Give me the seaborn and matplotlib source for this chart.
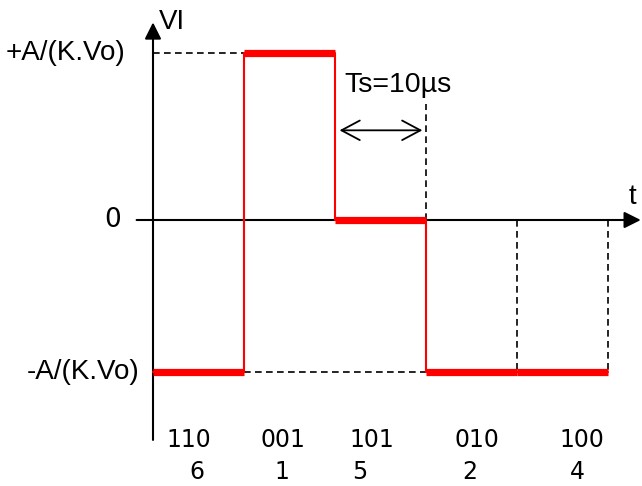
import numpy as np
import matplotlib
matplotlib.use("Agg")
import matplotlib.pyplot as plt
import seaborn as sns

# switching states per Ts slot
codes = ["110", "001", "101", "010", "100"]
sectors = ["6", "1", "5", "2", "4"]
levels = [-1.0, 1.1, 0.0, -1.0, -1.0]   # -A/(K.Vo), +A/(K.Vo), 0
level_names = ["+A/(K.Vo)", "0", "-A/(K.Vo)"]
ts_label = "Ts=10µs"

edges = list(range(len(levels) + 1))
pos_level, neg_level = max(levels), min(levels)

sns.set_style("white")
plt.rcParams["font.family"] = ["Liberation Sans", "DejaVu Sans"]
plt.rcParams["text.color"] = "black"

fig = plt.figure(figsize=(6.42, 4.86), dpi=100)
ax = fig.add_axes([0, 0, 1, 1])
ax.set_xlim(-153 / 91, 489 / 91)
ax.set_ylim(-266 / 152, 220 / 152)
ax.axis("off")

dash = dict(color="black", lw=1.2, linestyle=(0, (4, 2.6)))
# reference dashed lines
ax.plot([edges[0], edges[1]], [pos_level, pos_level], **dash)
ax.plot([edges[1], edges[3]], [neg_level, neg_level], **dash)
ax.plot([edges[3], edges[3]], [0, 0.76], **dash)
for e in edges[4:]:
    ax.plot([e, e], [0, neg_level], **dash)

# axes with arrows
arrow = dict(arrowstyle="-|>", color="black", lw=1.5, mutation_scale=25,
             shrinkA=0, shrinkB=0)
ax.annotate("", xy=(5.36, 0), xytext=(-0.18, 0), arrowprops=arrow,
            annotation_clip=False)
ax.annotate("", xy=(0, 1.3), xytext=(0, -1.447), arrowprops=arrow,
            annotation_clip=False)

# signal: thin step + thick levels
sns.lineplot(x=edges, y=levels + [levels[-1]], drawstyle="steps-post",
             color="red", lw=1.5, estimator=None, sort=False, ax=ax, zorder=3)
ax.hlines(levels, edges[:-1], edges[1:], color="red", lw=5.2, zorder=4,
          capstyle="butt")

# Ts arrow
ax.annotate("", xy=(2.96, 0.59), xytext=(2.05, 0.59),
            arrowprops=dict(arrowstyle="<->, head_length=0.6, head_width=0.32",
                            color="black", lw=1.3, mutation_scale=22,
                            shrinkA=0, shrinkB=0))
ax.text(2.69, 0.89, ts_label, fontsize=20.5, ha="center", va="center")

# level labels
ax.text(-0.967, pos_level, level_names[0], fontsize=20, ha="center", va="center")
ax.text(-0.44, 0, level_names[1], fontsize=19, ha="center", va="center",
        family="DejaVu Sans")
ax.text(-0.77, neg_level, level_names[2], fontsize=20, ha="center", va="center")
ax.text(0.06, 1.30, "VI", fontsize=20, ha="left", va="center")
ax.text(5.27, 0.15, "t", fontsize=20, ha="center", va="center")

# state codes and sector numbers
code_x = [0.39, 1.43, 2.41, 3.56, 4.71]
num_x = [0.48, 1.42, 2.27, 3.48, 4.66]
for cx, nx, c, s in zip(code_x, num_x, codes, sectors):
    ax.text(cx, -1.447, c, fontsize=17, ha="center", va="center",
            family="DejaVu Sans")
    ax.text(nx, -1.655, s, fontsize=17, ha="center", va="center",
            family="DejaVu Sans")

fig.savefig("out.png", dpi=100, facecolor="white")
